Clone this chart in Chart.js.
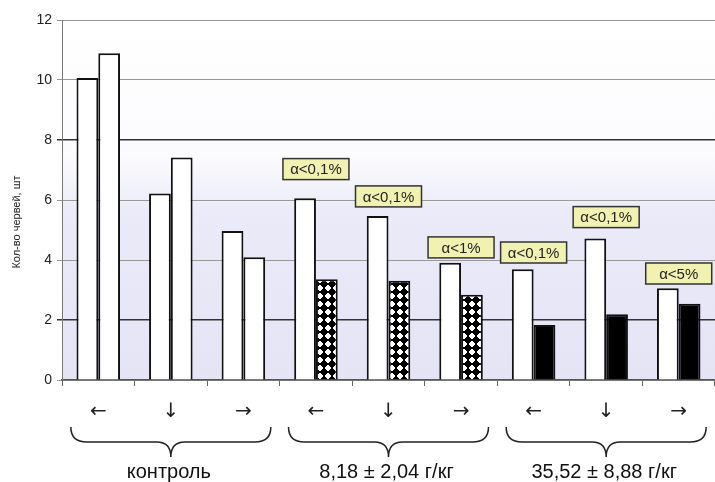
<!DOCTYPE html>
<html>
<head>
<meta charset="utf-8">
<script src="https://cdn.jsdelivr.net/npm/chart.js@4.4.0/dist/chart.umd.min.js"></script>
<style>
  html, body { margin: 0; padding: 0; background: #fff; }
</style>
</head>
<body>
<canvas id="chart" width="715" height="482"></canvas>
<script>
// direction of movement under each pair of bars
const arrows = ['←', '↓', '→', '←', '↓', '→', '←', '↓', '→'];
const groups = ['контроль', '8,18 ± 2,04 г/кг', '35,52 ± 8,88 г/кг'];

// worm counts, first (white) and second bar of each pair
const before = [10.07, 6.22, 4.97, 6.06, 5.47, 3.91, 3.69, 4.72, 3.06];
const after = [10.89, 7.42, 4.09, 3.36, 3.31, 2.84, 1.83, 2.19, 2.54];
const afterKind = ['white', 'white', 'white', 'check', 'check', 'check', 'black', 'black', 'black'];

// significance labels and the level (in axis units) where each one sits
const alphaLabels = [null, null, null, 'α<0,1%', 'α<0,1%', 'α<1%', 'α<0,1%', 'α<0,1%', 'α<5%'];
const alphaLevels = [null, null, null, 7.03, 6.12, 4.42, 4.25, 5.43, 3.55];

const yTitle = 'Кол-во червей, шт';
const FONT = '"Liberation Sans", Arial, sans-serif';

// crisp diamond checkerboard, drawn pixel by pixel
function makeCheckPattern() {
    const n = 8;
    const c = document.createElement('canvas');
    c.width = n;
    c.height = n;
    const g = c.getContext('2d');
    g.fillStyle = '#fff';
    g.fillRect(0, 0, n, n);
    g.fillStyle = '#000';
    for (let py = 0; py < n; py++) {
        for (let px = 0; px < n; px++) {
            const dx = Math.abs(px + 0.5 - n / 2);
            const dy = Math.abs(py + 0.5 - n / 2);
            if (dx + dy <= n / 2) g.fillRect(px, py, 1, 1);
        }
    }
    return g.createPattern(c, 'repeat');
}

const ctx = document.getElementById('chart').getContext('2d');
const checkPattern = makeCheckPattern();
const afterColors = afterKind.map(k => k === 'black' ? '#000' : (k === 'check' ? checkPattern : '#fff'));

const backgroundPlugin = {
    id: 'plotBackground',
    beforeDraw(chart) {
        const { ctx, chartArea: a, scales: { y } } = chart;
        const grad = ctx.createLinearGradient(0, a.top, 0, a.bottom);
        const top = y.getPixelForValue(7.5);
        const mid = y.getPixelForValue(5.5);
        grad.addColorStop(0, '#ffffff');
        grad.addColorStop((top - a.top) / (a.bottom - a.top), '#fbfbfe');
        grad.addColorStop((mid - a.top) / (a.bottom - a.top), '#eaeaf8');
        grad.addColorStop(1, '#e4e4f5');
        ctx.save();
        ctx.fillStyle = grad;
        ctx.fillRect(a.left, a.top, a.right - a.left, a.bottom - a.top);
        ctx.restore();
    }
};

const labelsPlugin = {
    id: 'alphaLabels',
    afterDatasetsDraw(chart) {
        const { ctx, scales: { x, y } } = chart;
        ctx.save();
        ctx.font = '15px ' + FONT;
        ctx.textAlign = 'center';
        ctx.textBaseline = 'middle';
        alphaLabels.forEach((txt, i) => {
            if (!txt) return;
            const cx = x.getPixelForValue(i);
            const cy = y.getPixelForValue(alphaLevels[i]);
            const w = 66, h = 21;
            ctx.fillStyle = '#f1f2b2';
            ctx.fillRect(cx - w / 2, cy - h / 2, w, h);
            ctx.strokeStyle = '#333';
            ctx.lineWidth = 1.5;
            ctx.strokeRect(cx - w / 2, cy - h / 2, w, h);
            ctx.fillStyle = '#222';
            ctx.fillText(txt, cx, cy + 1);
        });
        ctx.restore();
    }
};

const bracesPlugin = {
    id: 'groupBraces',
    afterDraw(chart) {
        const { ctx, scales: { x } } = chart;
        ctx.save();
        ctx.strokeStyle = '#222';
        ctx.lineWidth = 1.5;
        groups.forEach((name, g) => {
            const cx = x.getPixelForValue(g * 3 + 1);
            const x1 = cx - 100, x2 = cx + 100;
            const yTop = 427, yMid = 442, yTip = 457;
            ctx.beginPath();
            ctx.moveTo(x1, yTop);
            ctx.quadraticCurveTo(x1, yMid, x1 + 16, yMid);
            ctx.lineTo(cx - 14, yMid);
            ctx.quadraticCurveTo(cx, yMid, cx, yTip);
            ctx.quadraticCurveTo(cx, yMid, cx + 14, yMid);
            ctx.lineTo(x2 - 16, yMid);
            ctx.quadraticCurveTo(x2, yMid, x2, yTop);
            ctx.stroke();

            ctx.fillStyle = '#111';
            ctx.font = '20px ' + FONT;
            ctx.textAlign = 'center';
            ctx.textBaseline = 'middle';
            ctx.fillText(name, cx - 2, 472);
        });

        // rotated y-axis title
        ctx.translate(17, 222);
        ctx.rotate(-Math.PI / 2);
        ctx.font = '11px ' + FONT;
        ctx.fillStyle = '#222';
        ctx.textAlign = 'center';
        ctx.textBaseline = 'middle';
        ctx.fillText(yTitle, 0, 0);
        ctx.restore();
    }
};

new Chart(ctx, {
    type: 'bar',
    data: {
        labels: arrows,
        datasets: [
            {
                data: before,
                backgroundColor: '#fff',
                borderColor: '#111',
                borderWidth: 2,
                categoryPercentage: 0.6,
                barPercentage: 1.0
            },
            {
                data: after,
                backgroundColor: afterColors,
                borderColor: '#111',
                borderWidth: 2,
                categoryPercentage: 0.6,
                barPercentage: 1.0
            }
        ]
    },
    options: {
        responsive: false,
        animation: false,
        layout: {
            autoPadding: false,
            padding: { top: 20, left: 0, right: 0, bottom: 0 }
        },
        plugins: {
            legend: { display: false },
            tooltip: { enabled: false }
        },
        scales: {
            x: {
                grid: {
                    drawOnChartArea: false,
                    drawTicks: true,
                    tickLength: 6,
                    color: '#666',
                    offset: true
                },
                border: { display: true, color: '#555', width: 1.5 },
                ticks: {
                    font: { size: 20, family: '"DejaVu Sans", sans-serif' },
                    color: '#222',
                    padding: 14
                },
                afterFit: s => { s.height = 102; }
            },
            y: {
                min: 0,
                max: 12,
                ticks: {
                    stepSize: 2,
                    font: { size: 14, family: FONT },
                    color: '#222',
                    padding: 5
                },
                grid: {
                    tickLength: 5,
                    color: c => (c.tick && (c.tick.value === 2 || c.tick.value === 8)) ? '#333' : '#999',
                    lineWidth: c => (c.tick && (c.tick.value === 2 || c.tick.value === 8)) ? 1.5 : 1
                },
                border: { display: true, color: '#777', width: 1 },
                afterFit: s => { s.width = 62; }
            }
        }
    },
    plugins: [backgroundPlugin, labelsPlugin, bracesPlugin]
});
</script>
</body>
</html>
